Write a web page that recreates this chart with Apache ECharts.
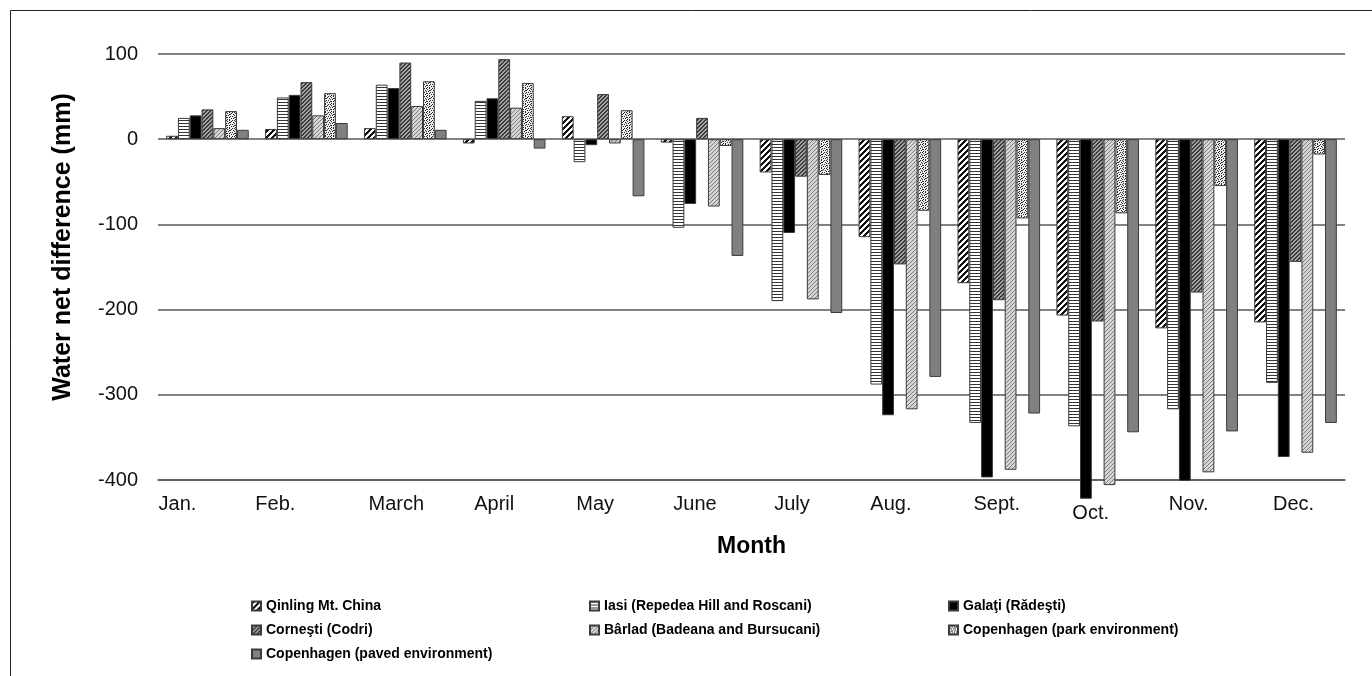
<!DOCTYPE html>
<html>
<head>
<meta charset="utf-8">
<title>Water net difference by month</title>
<script src="https://cdn.jsdelivr.net/npm/echarts@6/dist/echarts.min.js"></script>
<style>
  html, body { margin: 0; padding: 0; background: #fff; }
  #chart { width: 1372px; height: 676px; }
</style>
</head>
<body>
<div id="chart"></div>
<script>
// Monthly water net difference (mm) for each site
const months = ['Jan.', 'Feb.', 'March', 'April', 'May', 'June', 'July', 'Aug.', 'Sept.', 'Oct.', 'Nov.', 'Dec.'];
const yTicks = [-400, -300, -200, -100, 0, 100];

const qinling  = [4, 12, 13, -5, 27, -4, -39, -115, -169, -207, -222, -215];
const iasi     = [25, 49, 64, 45, -27, -104, -190, -288, -333, -337, -317, -286];
const galati   = [28, 52, 60, 48, -7, -76, -110, -324, -397, -422, -401, -373];
const cornesti = [35, 67, 90, 94, 53, 25, -44, -147, -189, -214, -180, -144];
const barlad   = [13, 28, 39, 37, -5, -79, -188, -317, -388, -406, -391, -368];
const cphPark  = [33, 54, 68, 66, 34, -8, -42, -84, -93, -87, -55, -18];
const cphPaved = [11, 19, 11, -11, -67, -137, -204, -279, -322, -344, -343, -333];

const seriesNames = [
  'Qinling Mt. China',
  'Iasi (Repedea Hill and Roscani)',
  'Galaţi (Rădeşti)',
  'Corneşti (Codri)',
  'Bârlad (Badeana and Bursucani)',
  'Copenhagen (park environment)',
  'Copenhagen (paved environment)'
];
const seriesValues = [qinling, iasi, galati, cornesti, barlad, cphPark, cphPaved];

// ---- hatch fills, drawn pixel by pixel on small tiles ----
function tile(w, h, painter) {
  const c = document.createElement('canvas');
  c.width = w; c.height = h;
  const ctx = c.getContext('2d');
  for (let y = 0; y < h; y++) {
    for (let x = 0; x < w; x++) {
      ctx.fillStyle = painter(x, y);
      ctx.fillRect(x, y, 1, 1);
    }
  }
  return { image: c, repeat: 'repeat' };
}
const dotMask = [
  '10100100',
  '00010001',
  '01000110',
  '00101000',
  '10000010',
  '00110100',
  '01000001',
  '00010100'
];
const fills = [
  tile(6, 6, (x, y) => ((x + y) % 6 < 3 ? '#111' : '#fff')),            // wide upward diagonal
  tile(3, 3, (x, y) => (y % 3 === 0 ? '#333' : '#fff')),                // horizontal lines
  '#000',                                                                // solid black
  tile(4, 4, (x, y) => ((x + y) % 4 < 2 ? '#3c3c3c' : '#a4a4a4')),       // dark diagonal
  tile(4, 4, (x, y) => ((x + y) % 4 === 0 ? '#7a7a7a' : '#d6d6d6')),     // light diagonal
  tile(8, 8, (x, y) => (dotMask[y][x] === '1' ? '#2a2a2a' : '#eeeeee')), // dotted
  '#808080'                                                              // solid grey
];

// small per-label nudges so month names sit under their groups as drawn originally
const labelShiftX = [30, 31, 9, 10, 8, 7, 9, 9, 2, 7, 8, 2];
const labelShiftY = [0, 0, 0, 0, 0, 0, 0, 0, 0, 9, 0, 0];

const FONT = "'Liberation Sans', Arial, sans-serif";

const chart = echarts.init(document.getElementById('chart'), null, { renderer: 'canvas' });

const series = seriesNames.map((name, i) => ({
  name: name,
  type: 'bar',
  data: seriesValues[i],
  barGap: '0%',
  barCategoryGap: '16.5%',
  clip: false,
  itemStyle: {
    color: fills[i],
    borderColor: '#3a3a3a',
    borderWidth: 1
  },
  emphasis: { disabled: true }
}));

const legendText = { fontFamily: FONT, fontSize: 14, fontWeight: 'bold', color: '#000', lineHeight: 16 };
function legendColumn(left, names) {
  return {
    orient: 'vertical',
    left: left,
    top: 593,
    itemWidth: 9,
    itemHeight: 9,
    itemGap: 8,
    icon: 'rect',
    selectedMode: false,
    textStyle: legendText,
    data: names
  };
}

chart.setOption({
  animation: false,
  backgroundColor: '#fff',
  grid: { left: 158, right: 27, top: 54, bottom: 196, containLabel: false },
  xAxis: {
    type: 'category',
    data: months.map((m, i) => ({
      value: m,
      textStyle: { padding: [labelShiftY[i], labelShiftX[i] * 2, 0, 0] }
    })),
    name: 'Month',
    nameLocation: 'middle',
    nameGap: 55,
    nameTextStyle: { fontFamily: FONT, fontSize: 23, fontWeight: 'bold', color: '#000' },
    axisLine: { show: true, onZero: false, lineStyle: { color: '#595959', width: 1.5 } },
    axisTick: { show: false },
    axisLabel: { fontFamily: FONT, fontSize: 20, color: '#111', margin: 14, interval: 0 },
    splitLine: { show: false }
  },
  yAxis: {
    type: 'value',
    min: yTicks[0],
    max: yTicks[yTicks.length - 1],
    interval: 100,
    name: 'Water net difference (mm)',
    nameLocation: 'middle',
    nameGap: 82,
    nameTextStyle: { fontFamily: FONT, fontSize: 25, fontWeight: 'bold', color: '#000', padding: [0, 0, 0, 40] },
    axisLine: { show: false },
    axisTick: { show: false },
    axisLabel: { fontFamily: FONT, fontSize: 20, color: '#111', margin: 20 },
    splitLine: { show: true, lineStyle: { color: '#595959', width: 1.5 } }
  },
  legend: [
    legendColumn(246, [seriesNames[0], seriesNames[3], seriesNames[6]]),
    legendColumn(584, [seriesNames[1], seriesNames[4]]),
    legendColumn(943, [seriesNames[2], seriesNames[5]])
  ],
  graphic: [{
    type: 'polyline',
    silent: true,
    shape: { points: [[10.5, 676], [10.5, 10.5], [1372, 10.5]] },
    style: { stroke: '#222', lineWidth: 1, fill: null }
  }],
  series: series
});
</script>
</body>
</html>
